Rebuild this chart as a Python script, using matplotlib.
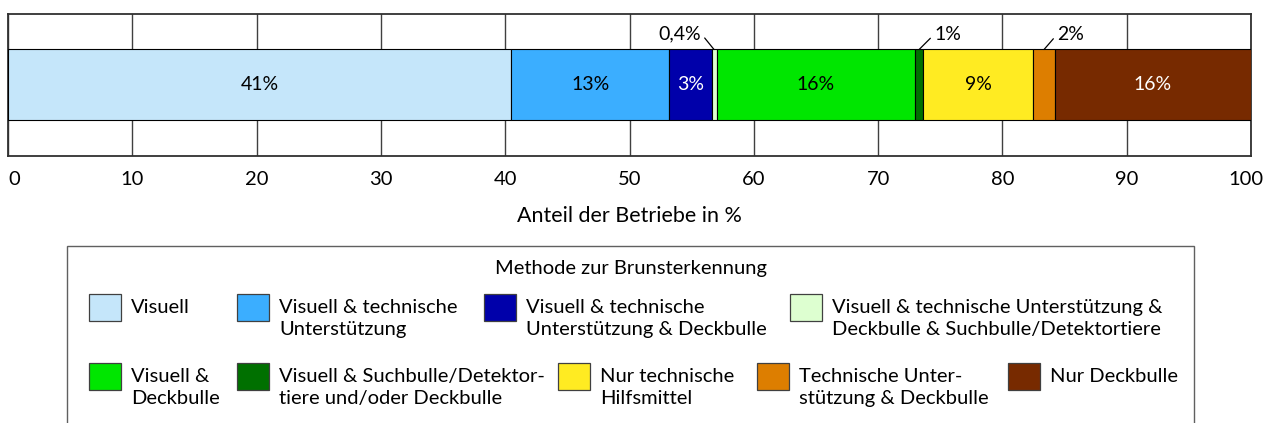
import matplotlib.pyplot as plt
from matplotlib.patches import Rectangle
from matplotlib.transforms import ScaledTranslation

plt.rcParams['font.family'] = ['Lato', 'DejaVu Sans']

# data
methods = [
    "Visuell",
    "Visuell & technische\nUnterstützung",
    "Visuell & technische\nUnterstützung & Deckbulle",
    "Visuell & technische Unterstützung &\nDeckbulle & Suchbulle/Detektortiere",
    "Visuell &\nDeckbulle",
    "Visuell & Suchbulle/Detektor-\ntiere und/oder Deckbulle",
    "Nur technische\nHilfsmittel",
    "Technische Unter-\nstützung & Deckbulle",
    "Nur Deckbulle",
]
shares = [40.5, 12.7, 3.4, 0.4, 16.0, 0.6, 8.9, 1.7, 15.8]
share_labels = ["41%", "13%", "3%", "0,4%", "16%", "1%", "9%", "2%", "16%"]
colors = ["#C5E6FA", "#3BAEFF", "#0000AA", "#DDFFD0", "#00E600",
          "#007000", "#FFEB22", "#DD7E00", "#772A00"]
text_colors = ["black", "black", "white", "black", "black",
               "black", "black", "black", "white"]
# small segments get their label outside with a leader line
outside = {3: (-13, 16, "right"), 5: (15, 15, "left"), 7: (13, 15, "left")}
x_ticks = [0, 10, 20, 30, 40, 50, 60, 70, 80, 90, 100]

FS = 14.5
W, H = 1267, 423
fig = plt.figure(figsize=(W / 100, H / 100), dpi=100)
ax = fig.add_axes([8 / W, 1 - 156 / H, (1251 - 8) / W, (156 - 14) / H])

left = 0
for i, v in enumerate(shares):
    ax.barh(0, v, left=left, height=0.5, color=colors[i],
            edgecolor="black", linewidth=0.8, zorder=3)
    if i in outside:
        dx, dy, ha = outside[i]
        ax.annotate(share_labels[i], xy=(left + v / 2, 0.25),
                    xytext=(dx, dy), textcoords="offset pixels",
                    ha=ha, va="center", fontsize=14,
                    arrowprops=dict(arrowstyle="-", lw=0.9, color="black",
                                    shrinkA=1, shrinkB=0,
                                    relpos=(1, 0.5) if ha == "right" else (0, 0.5)))
    else:
        ax.text(left + v / 2, 0, share_labels[i], ha="center", va="center",
                color=text_colors[i], fontsize=14, zorder=4)
    left += v

ax.set_xlim(0, 100)
ax.set_ylim(-0.5, 0.5)
ax.set_yticks([])
ax.set_xticks(x_ticks)
ax.tick_params(axis="x", length=0, pad=11, labelsize=14.5)
ax.grid(axis="x", color="#404040", lw=1, zorder=1)
for s in ax.spines.values():
    s.set_color("#303030")
    s.set_linewidth(1.3)
ax.set_xlabel("Anteil der Betriebe in %", fontsize=15.5, va="center")
ax.xaxis.set_label_coords(0.5, -60 / 142)

# keep the end labels inside the picture, like the original
tl = ax.get_xticklabels()
tl[0].set_transform(tl[0].get_transform() + ScaledTranslation(6 / 100, 0, fig.dpi_scale_trans))
tl[-1].set_transform(tl[-1].get_transform() + ScaledTranslation(-5 / 100, 0, fig.dpi_scale_trans))


def fp(x, y):
    return x / W, 1 - y / H


# legend box, drawn by hand because the columns are irregular
bx, by = fp(67, 246)
fig.add_artist(Rectangle((bx, -0.1), (1194 - 67) / W, by + 0.1,
                         transform=fig.transFigure, fill=False,
                         edgecolor="#606060", lw=1))
fig.text(*fp(631, 268), "Methode zur Brunsterkennung", ha="center",
         va="center", fontsize=FS)

patch_pos = [(89, 294), (237, 294), (484, 294), (790, 294),
             (89, 363), (237, 363), (558, 363), (757, 363), (1008, 363)]
for i, (px, py) in enumerate(patch_pos):
    x0, y0 = fp(px, py + 27)
    fig.add_artist(Rectangle((x0, y0), 32 / W, 27 / H,
                             transform=fig.transFigure,
                             facecolor=colors[i], edgecolor="#404040", lw=0.9))
    tx, ty = fp(px + 42, py + 5)
    fig.text(tx, ty, methods[i], ha="left", va="top", fontsize=FS,
             linespacing=1.38)

fig.savefig("out.png", dpi=100)
